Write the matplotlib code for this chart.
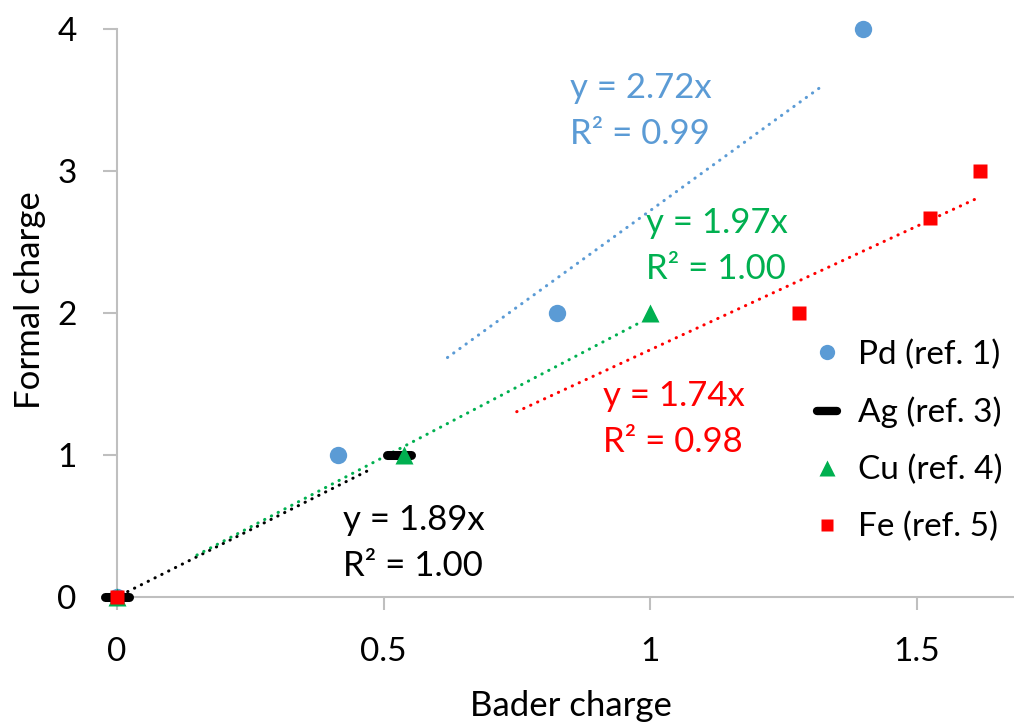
import matplotlib
matplotlib.use("Agg")
import matplotlib.pyplot as plt
from matplotlib.markers import MarkerStyle
from matplotlib.lines import Line2D
import numpy as np

plt.rcParams['font.family'] = ['Lato', 'DejaVu Sans']

# Bader charge (x) vs formal charge (y) for each metal
pd_x = [0.0, 0.415, 0.826, 1.400]
pd_y = [0, 1, 2, 4]
ag_x = [0.0, 0.529]
ag_y = [0, 1]
cu_x = [0.0, 0.538, 1.0]
cu_y = [0, 1, 2]
fe_x = [0.0, 1.28, 1.525, 1.619]
fe_y = [0, 2, 2.67, 3]

# Linear fits through the origin: slopes and R^2
slopes = {"Pd": 2.72, "Ag": 1.89, "Cu": 1.97, "Fe": 1.74}
r2 = {"Pd": 0.99, "Ag": 1.00, "Cu": 1.00, "Fe": 0.98}
# x-extent over which each fit line is drawn
fit_span = {"Pd": (0.62, 1.32), "Ag": (0.02, 0.48), "Cu": (0.15, 0.98), "Fe": (0.75, 1.61)}

labels = ["Pd (ref. 1)", "Ag (ref. 3)", "Cu (ref. 4)", "Fe (ref. 5)"]
colors = {"Pd": "#5B9BD5", "Ag": "#000000", "Cu": "#00B050", "Fe": "#FF0000"}

W, H = 1014, 726
X0, Y0, PX_X, PX_Y = 117, 597, 533.0, 142.0   # axes origin and scale in pixels

fig = plt.figure(figsize=(W / 100, H / 100), dpi=100)
ax = fig.add_axes([X0 / W, 1 - Y0 / H, 1 - X0 / W, (Y0 - 29) / H])
ax.set_xlim(0, (W - X0) / PX_X)
ax.set_ylim(0, 4)

FS = 24

# dotted fit lines
dot_style = (0, (0.1, 2.4))
for key in ["Pd", "Ag", "Cu", "Fe"]:
    x0, x1 = fit_span[key]
    xs = np.array([x0, x1])
    ax.plot(xs, slopes[key] * xs, color=colors[key], lw=2.2,
            linestyle=dot_style, dash_capstyle='round', zorder=2)

# data points
ax.plot(pd_x, pd_y, 'o', color=colors["Pd"], ms=12.5, mec='none', clip_on=False, zorder=3)
ag_marker = MarkerStyle('_', capstyle='round')
ax.plot(ag_x, ag_y, linestyle='none', marker=ag_marker, color=colors["Ag"], ms=17,
        mew=6.5, clip_on=False, zorder=3)
ax.plot(cu_x, cu_y, '^', color=colors["Cu"], ms=13, mec='none', clip_on=False, zorder=4)
ax.plot(fe_x, fe_y, 's', color=colors["Fe"], ms=9.5, mec='none', clip_on=False, zorder=5)


def px2data(px, py):
    return (px - X0) / PX_X, (Y0 - py) / PX_Y


# fit equations
eq_pos = {"Pd": (570, 111), "Cu": (646, 246), "Fe": (603, 419), "Ag": (343, 543)}
for key, (px, py) in eq_pos.items():
    dx, dy = px2data(px, py)
    ax.text(dx, dy, f"y = {slopes[key]:.2f}x\nR² = {r2[key]:.2f}", color=colors[key],
            fontsize=FS + 1, ha='left', va='center', linespacing=1.55)

# axes styling
axis_grey = "#BFBFBF"
for s in ["top", "right"]:
    ax.spines[s].set_visible(False)
for s in ["left", "bottom"]:
    ax.spines[s].set_color(axis_grey)
    ax.spines[s].set_linewidth(1.5)
ax.set_xticks([0, 0.5, 1, 1.5])
ax.set_xticklabels(["0", "0.5", "1", "1.5"])
ax.set_yticks([0, 1, 2, 3, 4])
ax.tick_params(axis='x', direction='out', length=9, width=1.5, color=axis_grey,
               labelsize=FS, pad=20)
ax.tick_params(axis='y', direction='out', length=10, width=1.5, color=axis_grey,
               labelsize=FS, pad=19)

fig.text(571 / W, 1 - 706 / H, "Bader charge", fontsize=FS + 1, ha='center', va='center')
fig.text(30 / W, 1 - 300 / H, "Formal charge", fontsize=FS + 1, ha='center', va='center',
         rotation=90)

# legend
handles = [
    Line2D([], [], linestyle='none', marker='o', color=colors["Pd"], ms=11, mec='none'),
    Line2D([], [], linestyle='none', marker=ag_marker, color=colors["Ag"], ms=14, mew=6),
    Line2D([], [], linestyle='none', marker='^', color=colors["Cu"], ms=11, mec='none'),
    Line2D([], [], linestyle='none', marker='s', color=colors["Fe"], ms=8.5, mec='none'),
]
fig.legend(handles, labels, loc='center left', bbox_to_anchor=(810 / W, 1 - 441 / H),
           frameon=False, fontsize=FS, handlelength=1.0, handletextpad=0.45,
           labelspacing=0.8, borderpad=0, borderaxespad=0)

fig.savefig("out.png", dpi=100)
